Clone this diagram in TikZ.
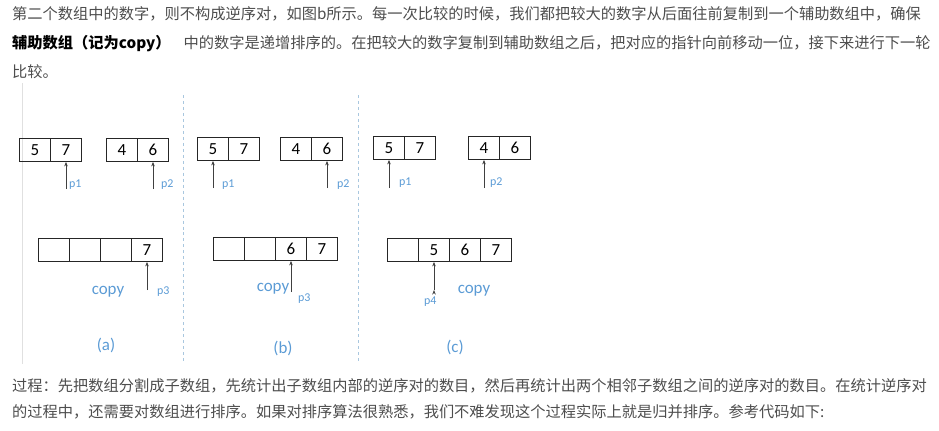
\documentclass[tikz,border=0pt]{standalone}
\usepackage{fontspec}
\setmainfont{Carlito}
\newfontfamily\cjk{Noto Sans CJK SC}
\usetikzlibrary{positioning, arrows.meta}

\definecolor{bodygray}{HTML}{4D4D4D}
\definecolor{labelblue}{HTML}{5B9BD5}
\definecolor{sepblue}{HTML}{A9C7DF}

\begin{document}
\begin{tikzpicture}[x=1bp, y=-1bp, node distance=31bp, on grid,
   cell/.style={draw=black!85, line width=0.8bp, minimum width=31bp, minimum height=23bp,
                inner sep=0pt, font=\fontsize{17}{17}\selectfont},
   ptr/.style={anchor=west, inner sep=0pt, text=labelblue, font=\fontsize{12}{12}\selectfont},
   arr/.style={-{Stealth[length=4.5bp, width=3.5bp]}, draw=black!75, line width=0.7bp},
   tag/.style={inner sep=0pt, text=labelblue, font=\fontsize{17}{17}\selectfont},
   para/.style={anchor=west, inner sep=0pt, text=bodygray, font=\cjk\fontsize{15.3}{15.3}\selectfont}]
   \useasboundingbox (0,0) rectangle (939,430);

   % Text above
   \node[para] (l1) at (12,14) {第二个数组中的数字，则不构成逆序对，如图b所示。每一次比较的时候，我们都把较大的数字从后面往前复制到一个辅助数组中，确保};
   \node[para] (l2) at (12,44) {{\bfseries\color{black}辅助数组（记为copy）}\hspace{13bp}中的数字是递增排序的。在把较大的数字复制到辅助数组之后，把对应的指针向前移动一位，接下来进行下一轮};
   \node[para] (l3) at (12,72) {比较。};

   % Frame and separators
   \draw[black!12, line width=0.8bp] (22,83) -- (22,364);
   \draw[sepblue, dashed, line width=0.8bp] (183,95) -- (183,363);
   \draw[sepblue, dashed, line width=0.8bp] (358,95) -- (358,363);

   % (a)
   \node[cell] (a5) at (35,150) {5};
   \node[cell] (a7) [right=of a5] {7};
   \node[cell] (a4) at (122,150) {4};
   \node[cell] (a6) [right=of a4] {6};
   \node[cell] (ac1) at (54,250) {};
   \node[cell] (ac2) [right=of ac1] {};
   \node[cell] (ac3) [right=of ac2] {};
   \node[cell] (ac4) [right=of ac3] {7};
   \coordinate[below=39bp of a7] (ta1);
   \coordinate[below=39bp of a6] (ta2);
   \coordinate[below=40bp of ac4] (ta3);
   \node[ptr] (pa1) at ([xshift=3bp, yshift=4bp]ta1) {p1};
   \node[ptr] (pa2) at ([xshift=8bp, yshift=4bp]ta2) {p2};
   \node[ptr] (pa3) at ([xshift=10bp, yshift=-2bp]ta3) {p3};
   \node[tag] (copya) at (108,292) {copy};
   \node[tag] (capa) at (106,345) {(a)};

   % (b)
   \node[cell] (b5) at (213,149) {5};
   \node[cell] (b7) [right=of b5] {7};
   \node[cell] (b4) at (296,149) {4};
   \node[cell] (b6) [right=of b4] {6};
   \node[cell] (bc1) at (229,249) {};
   \node[cell] (bc2) [right=of bc1] {};
   \node[cell] (bc3) [right=of bc2] {6};
   \node[cell] (bc4) [right=of bc3] {7};
   \coordinate[below=39bp of b5] (tb1);
   \coordinate[below=39bp of b6] (tb2);
   \coordinate[below=43bp of bc3] (tb3);
   \node[ptr] (pb1) at ([xshift=9bp, yshift=3bp]tb1) {p1};
   \node[ptr] (pb2) at ([xshift=10bp, yshift=3bp]tb2) {p2};
   \node[ptr] (pb3) at ([xshift=7bp, yshift=-7bp]tb3) {p3};
   \node[tag] (copyb) at (273,289) {copy};
   \node[tag] (capb) at (283,348) {(b)};

   % (c)
   \node[cell] (c5) at (389,148) {5};
   \node[cell] (c7) [right=of c5] {7};
   \node[cell] (c4) at (484,148) {4};
   \node[cell] (c6) [right=of c4] {6};
   \node[cell] (cc1) at (403,250) {};
   \node[cell] (cc2) [right=of cc1] {5};
   \node[cell] (cc3) [right=of cc2] {6};
   \node[cell] (cc4) [right=of cc3] {7};
   \coordinate[below=40bp of c5] (tc1);
   \coordinate[below=40bp of c4] (tc2);
   \coordinate[below=40bp of cc2] (tc3);
   \node[ptr] (pc1) at ([xshift=10bp, yshift=5bp]tc1) {p1};
   \node[ptr] (pc2) at ([xshift=6bp, yshift=5bp]tc2) {p2};
   \node[ptr] (pc3) at ([xshift=-10bp, yshift=-12bp]tc3) {p4};
   \node[tag] (copyc) at (474,291) {copy};
   \node[tag] (capc) at (455,347) {(c)};

   % Pointers
   \path[arr]
    (ta1) edge (a7)
    (ta2) edge (a6)
    (ta3) edge (ac4)
    (tb1) edge (b5)
    (tb2) edge (b6)
    (tb3) edge (bc3)
    (tc1) edge (c5)
    (tc2) edge (c4)
    (tc3) edge (cc2);

   % Text below
   \node[para] (l4) at (12,386) {过程：先把数组分割成子数组，先统计出子数组内部的逆序对的数目，然后再统计出两个相邻子数组之间的逆序对的数目。在统计逆序对};
   \node[para] (l5) at (12,412) {的过程中，还需要对数组进行排序。如果对排序算法很熟悉，我们不难发现这个过程实际上就是归并排序。参考代码如下:};
\end{tikzpicture}
\end{document}
